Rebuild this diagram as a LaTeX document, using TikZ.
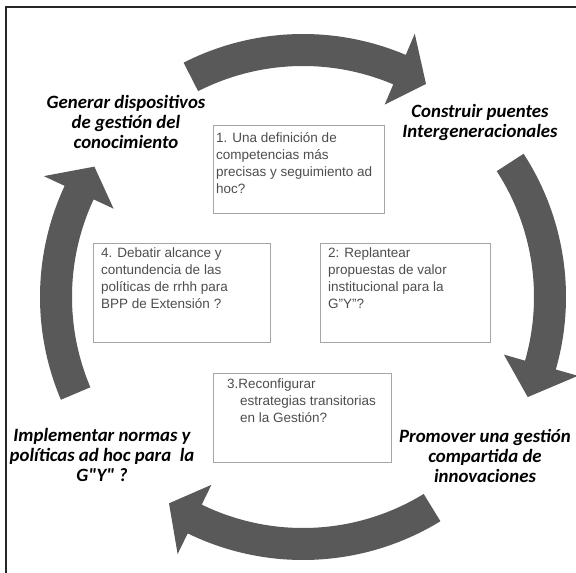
\documentclass[tikz,border=0pt]{standalone}
\usepackage{fontspec}
\setmainfont{Liberation Sans}
\newfontfamily\labelfont{Carlito}
\usetikzlibrary{calc}

\definecolor{arrowgray}{HTML}{595959}
\definecolor{boxgray}{HTML}{A6A6A6}
\definecolor{textgray}{HTML}{4D4D4D}

\begin{document}
\begin{tikzpicture}[x=1pt, y=-1pt,
	qbox/.style={draw=boxgray, line width=1.4pt, anchor=north west, inner sep=0pt},
	qtext/.style={anchor=north west, align=left, inner sep=0pt, text=textgray,
		font=\fontsize{13.5}{17}\selectfont},
	lbl/.style={align=center, inner sep=0pt, font=\labelfont\bfseries\itshape\fontsize{18.8}{20}\selectfont},
	frame/.style={line width=1.6pt, black!85}]

	\useasboundingbox (0,0) rectangle (576,573);
	\clip (0,0) rectangle (576,573);

	\coordinate (c) at (303,297);

	% cycle arrows: tail / head base / tip angles
	\foreach \t/\b/\p in {-117/-67/-60, -33/16/24, 58.5/116/123, 157/205/212}
		\fill[arrowgray] ($(c)+(\t:263)$) arc[start angle=\t, end angle=\b, radius=263]
			-- ($(c)+(\b:286)$) -- ($(c)+(\p:246)$) -- ($(c)+(\b:209)$)
			-- ($(c)+(\b:231)$) arc[start angle=\b, end angle=\t, radius=231] -- cycle;

	\node[qbox, minimum width=171pt, minimum height=88pt] (q1) at (213,125) {};
	\node[qbox, minimum width=170pt, minimum height=99pt] (q2) at (320,243) {};
	\node[qbox, minimum width=178pt, minimum height=89pt] (q3) at (213,373) {};
	\node[qbox, minimum width=177pt, minimum height=99pt] (q4) at (93,243)  {};

	\node[qtext] (t1) at ($(q1.north west)+(3,7)$)  {1. Una definición de\\competencias más\\precisas y seguimiento ad\\hoc?};
	\node[qtext] (t2) at ($(q2.north west)+(8,5)$)  {2: Replantear\\propuestas de valor\\institucional para la\\G"Y"?};
	\node[qtext] (t3) at ($(q3.north west)+(14,6)$) {3.Reconfigurar\\\hspace*{13pt}estrategias transitorias\\\hspace*{13pt}en la Gestión?};
	\node[qtext] (t4) at ($(q4.north west)+(8,5)$)  {4. Debatir alcance y\\contundencia de las\\políticas de rrhh para\\BPP de Extensión ?};

	\node[lbl] (generar)     at (126,122) {Generar dispositivos\\de gestión del\\conocimiento};
	\node[lbl] (construir)   at (480,122) {Construir puentes\\Intergeneracionales};
	\node[lbl] (promover)    at (485,456) {Promover una gestión\\compartida de\\innovaciones};
	\node[lbl] (implementar) at (102,455) {Implementar normas y\\políticas ad hoc para\ \ la\\G"Y" ?};

	\draw[frame] (6,573) -- (6,7) -- (576,7);
\end{tikzpicture}
\end{document}
